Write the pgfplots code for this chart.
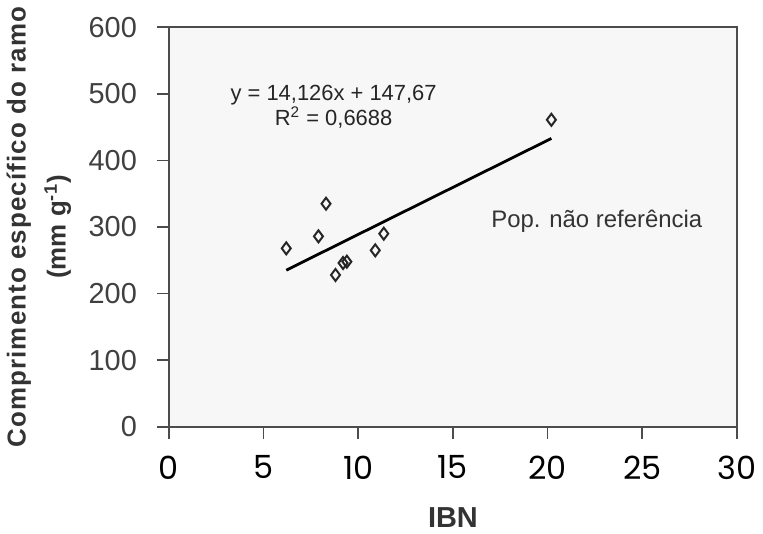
\documentclass[border=0pt]{standalone}
\usepackage{fontspec}
\setmainfont{Liberation Sans}
\newfontfamily\tickfont{Poppins}
\newfontfamily\labfont[LetterSpace=4.3]{Liberation Sans}
\usepackage{pgfplots}
\pgfplotsset{compat=1.18}

\begin{document}
\begin{tikzpicture}
\begin{axis}[
    scale only axis,
    width=285pt, height=200.5pt,
    xmin=0, xmax=30, ymin=0, ymax=600,
    xtick={0,5,...,30}, ytick={0,100,...,600},
    tick align=outside,
    xtick pos=bottom, ytick pos=left,
    major tick length=6pt,
    axis line style={line width=0.8pt, black!70},
    tick style={line width=0.8pt, black!70},
    axis background/.style={fill=black!3},
    /pgf/number format/assume math mode=true,
    yticklabel style={font=\fontsize{14.5}{15}\selectfont, text=black!75, xshift=-6.5pt},
    xticklabel style={font=\tickfont\fontsize{16}{17}\selectfont, yshift=-5pt},
    ylabel={{\labfont\bfseries Comprimento específico do ramo}\\\textbf{(mm g\textsuperscript{-1})}},
    ylabel style={align=center, font=\fontsize{13}{20}\selectfont, text=black!80, yshift=2pt},
    xlabel={\textbf{IBN}},
    xlabel style={font=\fontsize{14.5}{15}\selectfont, text=black!80, yshift=-7pt},
]
\addplot[only marks, mark=diamond, mark size=3pt, mark options={line width=1pt, black!85}]
coordinates {
(6.2,268) (7.9,286) (8.3,335) (8.8,228) (9.2,246) (9.4,248)
(10.9,265) (11.35,290) (20.2,461)
};
\addplot[black, line width=1.4pt] coordinates {(6.2,235.2) (20.2,433.0)};
\node[align=center, font=\fontsize{11}{12.5}\selectfont, text=black!85] at (axis cs:8.7,480) {y = 14,126x + 147,67\\R\textsuperscript{2} = 0,6688};
\node[font=\fontsize{12}{13}\selectfont, text=black!80] at (axis cs:22.6,308) {Pop. não referência};
\end{axis}
\end{tikzpicture}
\end{document}
